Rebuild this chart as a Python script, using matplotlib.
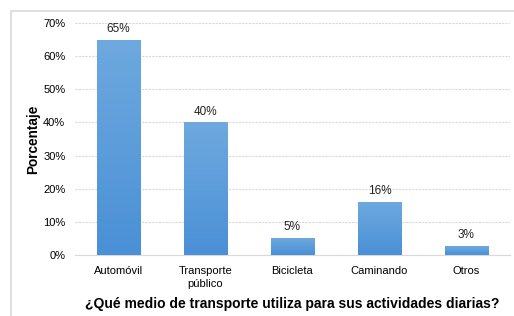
import numpy as np
import matplotlib.pyplot as plt
from matplotlib.patches import Rectangle

categorias = ["Automóvil", "Transporte\npúblico", "Bicicleta", "Caminando", "Otros"]
porcentajes = [65, 40, 5, 16, 2.7]
ticks_y = [0, 10, 20, 30, 40, 50, 60, 70]

plt.rcParams['font.family'] = ['Liberation Sans', 'DejaVu Sans']

fig = plt.figure(figsize=(5.14, 3.16), dpi=100)
ax = fig.add_axes([0.146, 0.193, 0.846, 0.734])

# marco del grafico
fig.patches.append(Rectangle((11/514, -0.1), 1.2, 1 - 11/316 + 0.1, transform=fig.transFigure,
                             fill=False, edgecolor='#d9d9d9', lw=1.2))

x = np.arange(len(categorias))
bars = ax.bar(x, porcentajes, width=0.5, color='none', zorder=3)

# degradado vertical en las barras
grad = np.linspace(0, 1, 100).reshape(-1, 1)
cmap = plt.matplotlib.colors.LinearSegmentedColormap.from_list("azul", ["#4a90d6", "#6ea9df"])
for b, v in zip(bars, porcentajes):
    x0 = b.get_x()
    w = b.get_width()
    im = ax.imshow(grad, extent=[x0, x0 + w, 0, v], origin='lower', aspect='auto',
                   cmap=cmap, zorder=3)
    im.set_clip_path(b)
    ax.text(x0 + w / 2, v + 1.5, f"{v:.0f}%", ha='center', va='bottom',
            fontsize=8.5, color='#222222')

ax.set_xlim(-0.5, len(categorias) - 0.5)
ax.set_ylim(0, 70)
ax.set_yticks(ticks_y)
ax.set_yticklabels([f"{t}%" for t in ticks_y])
ax.set_xticks(x)
ax.set_xticklabels(categorias, fontsize=8, linespacing=1.3)
ax.tick_params(axis='y', labelsize=8, length=0, pad=7)
ax.tick_params(axis='x', length=0, pad=8)
ax.yaxis.grid(True, linestyle=(0, (2, 1)), color='#d9d9d9', lw=0.8, zorder=0)
for s in ['top', 'right', 'left']:
    ax.spines[s].set_visible(False)
ax.spines['bottom'].set_color('#d9d9d9')

ax.set_ylabel("Porcentaje", fontsize=9.8, fontweight='bold', labelpad=2)
ax.set_xlabel("¿Qué medio de transporte utiliza para sus actividades diarias?", fontsize=10,
              fontweight='bold', labelpad=6)

fig.savefig("out.png", dpi=100)
